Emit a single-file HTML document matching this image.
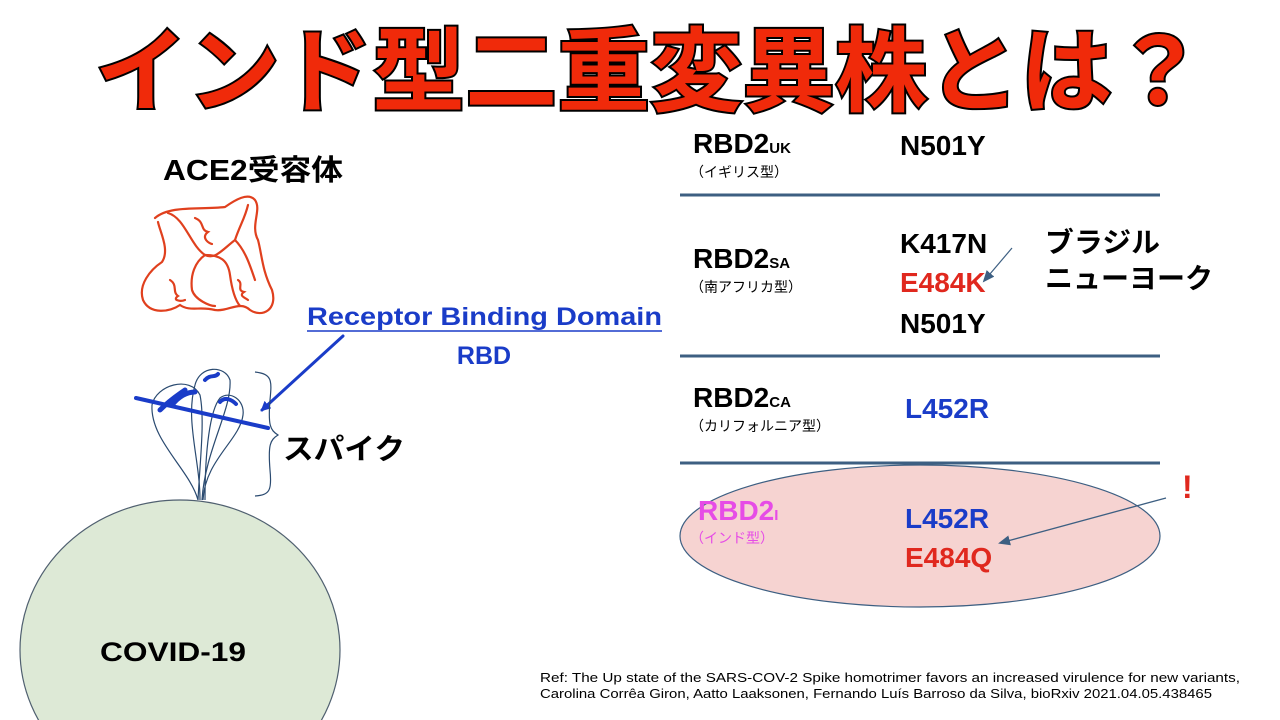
<!DOCTYPE html>
<html><head><meta charset="utf-8"><style>
html,body{margin:0;padding:0;background:#fff;width:1280px;height:720px;overflow:hidden;}
svg{display:block;}
text{font-family:"Liberation Sans","Noto Sans CJK JP",sans-serif;}
</style></head><body>
<svg width="1280" height="720" viewBox="0 0 1280 720" xmlns="http://www.w3.org/2000/svg">
<defs>
<marker id="ab" markerWidth="10" markerHeight="10" refX="8" refY="5" orient="auto" markerUnits="userSpaceOnUse"><path d="M0,0 L10,5 L0,10 z" fill="#1a3cc8"/></marker>
<marker id="ag" markerWidth="12" markerHeight="10" refX="10" refY="5" orient="auto" markerUnits="userSpaceOnUse"><path d="M0,0 L12,5 L0,10 z" fill="#3d5f82"/></marker>
</defs>
<text x="95" y="104" font-size="92" font-weight="bold" fill="#f02a0a" stroke="#000" stroke-width="4" paint-order="stroke" textLength="1110" lengthAdjust="spacingAndGlyphs">インド型二重変異株とは？</text>

<text x="163" y="180" font-size="29" font-weight="bold" fill="#000" textLength="180" lengthAdjust="spacingAndGlyphs">ACE2受容体</text>
<g fill="none" stroke="#e0401e" stroke-width="2.2" stroke-linecap="round">
<path d="M155,218 C170,205 200,210 225,207 C235,200 248,192 255,200 C262,210 250,225 258,240 C262,255 262,270 272,290 C278,310 262,318 250,310 C240,300 228,312 215,310 C200,306 190,312 180,305 C170,312 150,315 143,300 C138,285 150,270 162,262 C170,250 160,232 158,222"/>
<path d="M168,213 C185,218 190,245 205,255 C215,260 222,250 235,240 C240,225 245,218 248,205"/>
<path d="M195,218 C205,222 200,230 208,232 C200,238 210,244 212,244"/>
<path d="M205,255 C195,262 190,275 192,290 C195,300 210,306 215,306"/>
<path d="M205,255 C220,255 228,260 230,275 C232,290 235,300 240,306"/>
<path d="M235,240 C245,250 250,265 255,280"/>
<path d="M170,280 C178,285 172,292 178,296 C172,300 180,302 185,300"/>
<path d="M238,280 C244,284 236,290 244,292 C238,296 246,298 248,300"/>
</g>

<ellipse cx="180" cy="650" rx="160" ry="150" fill="#dde9d6" stroke="#506070" stroke-width="1.2"/>
<text x="100" y="661" font-size="27" font-weight="bold" fill="#000" textLength="146" lengthAdjust="spacingAndGlyphs">COVID-19</text>

<g fill="none" stroke="#2a4a70" stroke-width="1.2">
<path d="M198,500 C190,470 150,440 152,405 C156,385 190,375 200,395 C205,420 200,460 198,500"/>
<path d="M200,500 C200,460 185,420 195,385 C200,365 225,365 230,380 C232,410 205,450 202,500"/>
<path d="M203,500 C205,460 240,440 243,415 C245,400 230,390 220,398 C210,410 205,450 205,500"/>
</g>
<g stroke="#1a3cc8" fill="none" stroke-linecap="round">
<path d="M160,410 C170,400 178,395 185,390 M172,405 C180,395 188,392 195,392" stroke-width="5"/>
<path d="M205,380 C210,374 215,378 218,374" stroke-width="4"/>
<path d="M220,402 C225,396 232,400 236,404" stroke-width="4"/>
<line x1="136" y1="398" x2="268" y2="428" stroke-width="4"/>
<line x1="343" y1="336" x2="262" y2="410" stroke-width="3" marker-end="url(#ab)"/>
</g>
<path d="M255,372 C272,374 272,380 270,400 C268,425 270,430 278,435 C270,440 268,445 270,470 C272,490 270,495 255,496" fill="none" stroke="#2a4a70" stroke-width="1.2"/>
<text x="283" y="459" font-size="29" font-weight="bold" fill="#000" textLength="122" lengthAdjust="spacingAndGlyphs">スパイク</text>

<text x="307" y="325" font-size="25" font-weight="bold" fill="#1a3cc8" textLength="355" lengthAdjust="spacingAndGlyphs">Receptor Binding Domain</text>
<line x1="307" y1="331" x2="662" y2="331" stroke="#1a3cc8" stroke-width="1.5"/>
<text x="484" y="364" font-size="25" font-weight="bold" fill="#1a3cc8" text-anchor="middle">RBD</text>

<g stroke="#3d5f82" stroke-width="3">
<line x1="680" y1="195" x2="1160" y2="195"/>
<line x1="680" y1="356" x2="1160" y2="356"/>
</g>
<ellipse cx="920" cy="536" rx="240" ry="71" fill="#f6d3d1" stroke="#3d5f82" stroke-width="1.2"/>
<line x1="680" y1="463" x2="1160" y2="463" stroke="#3d5f82" stroke-width="3"/>

<g font-size="28" font-weight="bold" fill="#000">
<text x="693" y="153">RBD2<tspan font-size="15">UK</tspan></text>
<text x="693" y="268">RBD2<tspan font-size="15">SA</tspan></text>
<text x="693" y="407">RBD2<tspan font-size="15">CA</tspan></text>
<text x="698" y="520" fill="#e64ce6">RBD2<tspan font-size="15">I</tspan></text>
<text x="900" y="155">N501Y</text>
<text x="900" y="253">K417N</text>
<text x="900" y="292" fill="#e0281e">E484K</text>
<text x="900" y="333">N501Y</text>
<text x="905" y="418" fill="#1a3cc8">L452R</text>
<text x="905" y="528" fill="#1a3cc8">L452R</text>
<text x="905" y="567" fill="#e0281e">E484Q</text>
<text x="1045" y="252" textLength="115" lengthAdjust="spacingAndGlyphs">ブラジル</text>
<text x="1045" y="288" textLength="168" lengthAdjust="spacingAndGlyphs">ニューヨーク</text>
</g>
<g font-size="14" fill="#000">
<text x="690" y="177">（イギリス型）</text>
<text x="690" y="292">（南アフリカ型）</text>
<text x="690" y="431">（カリフォルニア型）</text>
<text x="690" y="543" fill="#e64ce6">（インド型）</text>
</g>
<line x1="1012" y1="248" x2="984" y2="281" stroke="#3d5f82" stroke-width="1.2" marker-end="url(#ag)"/>
<text x="1182" y="498" font-size="32" font-weight="bold" fill="#e0281e">!</text>
<line x1="1166" y1="498" x2="1000" y2="543" stroke="#3d5f82" stroke-width="1.3" marker-end="url(#ag)"/>

<g font-size="12.5" fill="#000">
<text x="540" y="682" textLength="700" lengthAdjust="spacingAndGlyphs">Ref: The Up state of the SARS-COV-2 Spike homotrimer favors an increased virulence for new variants,</text>
<text x="540" y="698" textLength="672" lengthAdjust="spacingAndGlyphs">Carolina Corrêa Giron, Aatto Laaksonen, Fernando Luís Barroso da Silva, bioRxiv 2021.04.05.438465</text>
</g>
</svg>
</body></html>
